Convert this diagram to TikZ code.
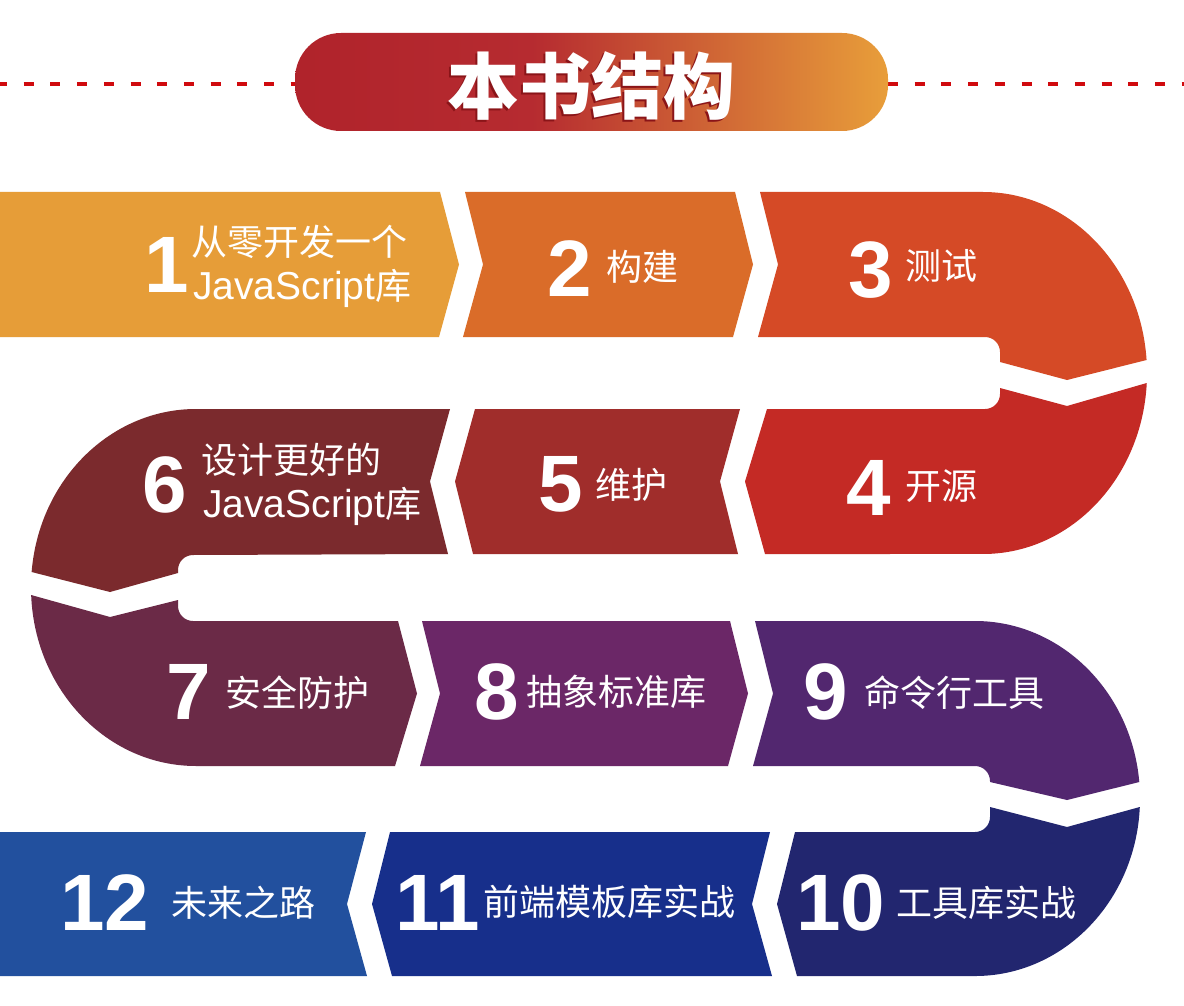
\documentclass[tikz,border=0pt]{standalone}
\usepackage{fontspec}
\setmainfont{Liberation Sans}
\newfontfamily\cjk{Noto Sans CJK SC}
\definecolor{c1}{HTML}{E69D38}
\definecolor{c2}{HTML}{DA6C29}
\definecolor{c3}{HTML}{D54A26}
\definecolor{c4}{HTML}{C42A25}
\definecolor{c5}{HTML}{A02D2B}
\definecolor{c6}{HTML}{7B2A2D}
\definecolor{c7}{HTML}{6B2A47}
\definecolor{c8}{HTML}{6B2767}
\definecolor{c9}{HTML}{52276F}
\definecolor{c10}{HTML}{22266F}
\definecolor{c11}{HTML}{172F8B}
\definecolor{c12}{HTML}{22509E}
\definecolor{dashred}{HTML}{D00A0E}
\definecolor{tred}{HTML}{B0232B}
\definecolor{tred2}{HTML}{B62B30}
\definecolor{torange}{HTML}{E89E3A}
\definecolor{tshadow}{HTML}{8A1418}
\pgfdeclarehorizontalshading{titleshade}{100bp}{color(0bp)=(tred); color(25bp)=(tred); color(45bp)=(tred2); color(75bp)=(torange); color(100bp)=(torange)}
\tikzset{
  dashline/.style={draw=dashred, line width=3.3pt, dash pattern=on 10pt off 16.7pt},
  num/.style={text=white, font=\bfseries\fontsize{80}{80}\selectfont, inner sep=0pt, anchor=center},
  lbl/.style={text=white, font=\cjk\fontsize{36}{40}\selectfont, inner sep=0pt, anchor=west},
  jslbl/.style={text=white, font=\fontsize{39}{44}\selectfont, inner sep=0pt, anchor=base west},
}
\begin{document}
\begin{tikzpicture}[x=1pt,y=-1pt]
\useasboundingbox (0,0) rectangle (1184,1006);
\fill[white] (0,0) rectangle (1184,1006);

% dashed rule and title
\coordinate (dl0) at (0,84);
\coordinate (dl1) at (296,84);
\coordinate (dr0) at (888,84);
\coordinate (dr1) at (1184,84);
\draw[dashline, dash phase=3pt] (dl0) -- (dl1);
\draw[dashline] (dr0) -- (dr1);
\path[shading=titleshade, rounded corners=46] (295,33) rectangle (888,131);
\node[text=tshadow, font=\cjk\bfseries\fontsize{72}{72}\selectfont, inner sep=0pt] (titleshadow) at (589.5,87.5) {本书结构};
\node[text=white, font=\cjk\bfseries\fontsize{72}{72}\selectfont, inner sep=0pt] (title) at (591,86) {本书结构};

% row 1
\fill[c1] (0,192) -- (440,192) -- (459,264.5) -- (439,337) -- (0,337) -- cycle;
\fill[c2] (465,192) -- (735,192) -- (753,264.5) -- (733,337) -- (463,337) -- (483,264.5) -- cycle;
\fill[c3] (760,192) -- (983,192) arc[start angle=-90, end angle=-4.12, x radius=164, y radius=181]
  -- (1067,380) -- (1000,362) -- (1000,352) arc[start angle=0, end angle=-90, radius=15]
  -- (758,337) -- (778,264.5) -- cycle;
% row 2
\fill[c4] (767,409) -- (985,409) arc[start angle=90, end angle=0, radius=15]
  -- (1000,388) -- (1067,406) -- (1146.75,383) arc[start angle=3.17, end angle=90, x radius=164, y radius=181]
  -- (765,554) -- (745,481.5) -- cycle;
\fill[c5] (740,409) -- (720,481.5) -- (738,554) -- (473,554) -- (455,481.5) -- (475,409) -- cycle;
\fill[c6] (450,409) -- (196,409) arc[start angle=-90, end angle=-175.02, x radius=165, y radius=178.5]
  -- (110,592) -- (178,573) -- (178,570) arc[start angle=180, end angle=270, radius=15]
  -- (448,554) -- (430,481.5) -- cycle;
% row 3
\fill[c7] (31.15,595) -- (110,617) -- (178,600) -- (178,606) arc[start angle=180, end angle=90, radius=15]
  -- (398,621) -- (417,693.5) -- (395,766) -- (196,766) arc[start angle=90, end angle=177.59, x radius=165, y radius=178.5] -- cycle;
\fill[c8] (422,621) -- (730,621) -- (748,693.5) -- (728,766) -- (420,766) -- (440,693.5) -- cycle;
\fill[c9] (755,621) -- (975,621) arc[start angle=-90, end angle=-5.33, x radius=165, y radius=177.5]
  -- (1067,800) -- (990,782) -- (990,781) arc[start angle=0, end angle=-90, radius=15]
  -- (753,766) -- (773,693.5) -- cycle;
% row 4
\fill[c10] (795,832) -- (975,832) arc[start angle=90, end angle=0, radius=15]
  -- (990,807) -- (1067,827) -- (1139.8,807) arc[start angle=2.74, end angle=90, x radius=165, y radius=177.5]
  -- (797,976) -- (777,904) -- cycle;
\fill[c11] (770,832) -- (752,904) -- (772,976) -- (392,976) -- (372,904) -- (390,832) -- cycle;
\fill[c12] (0,832) -- (366,832) -- (347,904) -- (367,976) -- (0,976) -- cycle;

% numbers
\node[num] (n1) at (167,264.5) {1};
\node[num] (n2) at (570,269) {2};
\node[num] (n3) at (871,270) {3};
\node[num] (n4) at (869,488) {4};
\node[num] (n5) at (561,484) {5};
\node[num] (n6) at (165,485) {6};
\node[num] (n7) at (189,692) {7};
\node[num] (n8) at (497,692) {8};
\node[num] (n9) at (826,692) {9};
\node[num] (n10) at (841,903) {10};
\node[num] (n11) at (438,903) {11};
\node[num] (n12) at (105,903) {12};

% labels
\node[lbl] (l1a) at (191,242) {从零开发一个};
\node[jslbl] (l1b) at (193,299) {JavaScript{\cjk\fontsize{36}{40}\selectfont 库}};
\node[lbl] (l2) at (606,267) {构建};
\node[lbl] (l3) at (905,266) {测试};
\node[lbl] (l4) at (905,486) {开源};
\node[lbl] (l5) at (595,485) {维护};
\node[lbl] (l6a) at (201,460) {设计更好的};
\node[jslbl] (l6b) at (203,517) {JavaScript{\cjk\fontsize{36}{40}\selectfont 库}};
\node[lbl] (l7) at (225,693) {安全防护};
\node[lbl] (l8) at (526,692) {抽象标准库};
\node[lbl] (l9) at (864,693) {命令行工具};
\node[lbl] (l10) at (896,903) {工具库实战};
\node[lbl] (l11) at (483,902) {前端模板库实战};
\node[lbl] (l12) at (171,903) {未来之路};
\end{tikzpicture}
\end{document}
